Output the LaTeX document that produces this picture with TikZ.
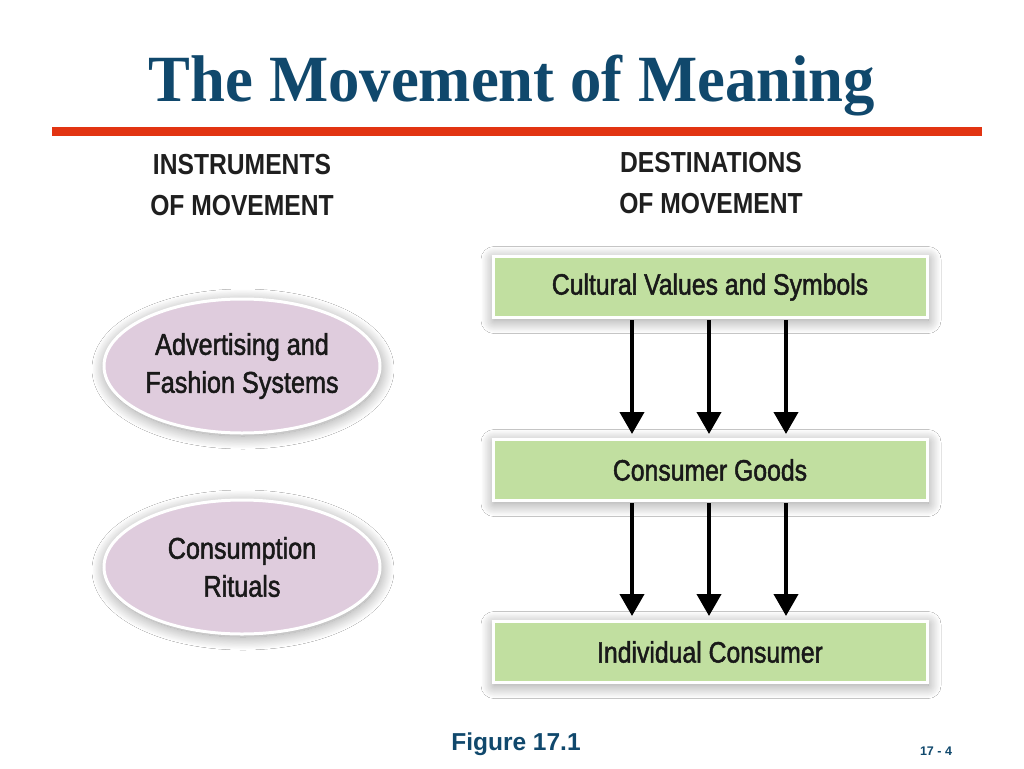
\documentclass[tikz,border=0pt]{standalone}
\usepackage{fontspec}
\setmainfont{Liberation Sans}
\newfontfamily\titlefont[FakeStretch=0.95]{Liberation Serif}
\newfontfamily\condfont[FakeStretch=0.85]{Liberation Sans}
\newfontfamily\bodyfont[FakeStretch=0.84,FakeBold=1.6]{Liberation Sans}
\usetikzlibrary{positioning, arrows.meta, shapes.geometric, shadows.blur}
\definecolor{titleblue}{RGB}{16,72,108}
\definecolor{rulered}{RGB}{226,52,18}
\definecolor{lilac}{RGB}{223,204,221}
\definecolor{leaf}{RGB}{193,223,160}
\tikzset{
glow/.style={blur shadow={shadow xshift=1pt, shadow yshift=-3pt,
  shadow blur radius=13pt, shadow blur steps=24, shadow opacity=42}},
block/.style={
  rectangle,
  draw=white,
  line width=3pt,
  fill=leaf,
  glow,
  minimum width=434pt,
  minimum height=61pt,
  text=black!90,
  font=\bodyfont\fontsize{29.5}{34}\selectfont
 },
line/.style={draw, line width=4pt, -{Triangle[width=24pt,length=22pt]}},
head/.style={align=center, text=black!88, font=\condfont\bfseries\fontsize{29}{41}\selectfont}
}
\begin{document}
\begin{tikzpicture}[x=1pt,y=-1pt,
item/.style={ellipse,draw=white,line width=3pt,fill=lilac,glow,align=center,
 minimum width=276pt,minimum height=134pt,inner sep=0pt,text=black!90,
 font=\bodyfont\fontsize{30}{38}\selectfont}]
 \fill[white] (0,0) rectangle (1024,768);
 \useasboundingbox (0,0) rectangle (1024,768);

 \node[anchor=base,text=titleblue,font=\titlefont\bfseries\fontsize{66}{70}\selectfont]
  (title) at (512,101) {The Movement of Meaning};
 \draw[rulered,line width=8.5pt] (52,131.5) coordinate (r0) -- (982,131.5) coordinate (r1);

 \node[head] (HL) at (242,185.5) {INSTRUMENTS\\OF MOVEMENT};
 \node[head] (HR) at (711,183.5) {DESTINATIONS\\OF MOVEMENT};

 % instruments
 \node[item] (E0) at (242,366) {Advertising and\\Fashion Systems};
 \node[item,below=64pt of E0] (E1) {Consumption\\Rituals};

 % destinations
 \node[block] (C0) at (710,287) {Cultural Values and Symbols};
 \node[block,below=119pt of C0] (C1) {Consumer Goods};
 \node[block,below=118pt of C1] (C2) {Individual Consumer};

 \foreach \X in {-78,-1,76}
 {\draw[line,shorten <=1pt,shorten >=4pt] ([xshift=\X pt]C0.south) -- ([xshift=\X pt]C1.north);
 \draw[line,shorten <=1pt,shorten >=4pt] ([xshift=\X pt]C1.south) -- ([xshift=\X pt]C2.north);}

 \node[anchor=base,text=titleblue,font=\bfseries\fontsize{24.5}{28}\selectfont]
  (fig) at (516,750) {Figure 17.1};
 \node[anchor=base,text=titleblue,font=\bfseries\fontsize{12.5}{15}\selectfont]
  (pg) at (936,755) {17 - 4};
\end{tikzpicture}
\end{document}
